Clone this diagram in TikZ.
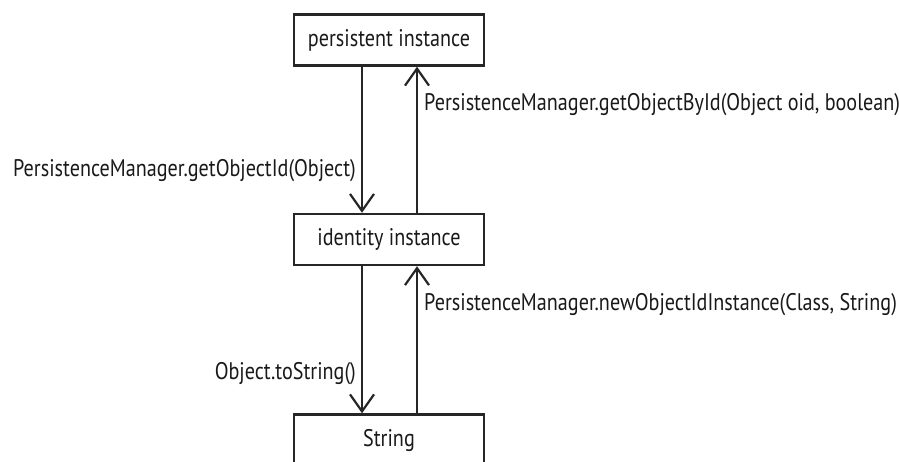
\documentclass[tikz,border=0pt]{standalone}
\usepackage{fontspec}
\setmainfont{PT Sans}[FakeStretch=0.84]
\usetikzlibrary{arrows.meta}
\begin{document}
\begin{tikzpicture}[x=1pt,y=-1pt,
  box/.style={draw=black!85,line width=2.4pt,minimum width=190pt,minimum height=51pt,
    inner sep=0pt,font=\fontsize{24}{28}\selectfont,text=black!90},
  flow/.style={draw=black!85,line width=2.2pt,
    -{Straight Barb[length=17pt,width=24pt,line width=2.2pt]}},
  lbl/.style={font=\fontsize{24}{28}\selectfont,text=black!90,inner sep=0pt}]
\useasboundingbox (0,0) rectangle (899,461);
\clip (0,0) rectangle (899,461);
% the three representations of an object identity
\node[box] (pi) at (389,40) {persistent instance};
\node[box] (ii) at (389,239.5) {identity instance};
\node[box] (st) at (389,440) {String};
% lanes for downward and upward conversions
\coordinate (dn) at (362,0);
\coordinate (up) at (417,0);
\draw[flow] (pi.south -| dn) -- (ii.north -| dn);
\draw[flow] (ii.north -| up) -- (pi.south -| up);
\draw[flow] (ii.south -| dn) -- (st.north -| dn);
\draw[flow] (st.north -| up) -- (ii.south -| up);
% conversion method labels
\node[lbl,anchor=east] (l1) at (356,171) {PersistenceManager.getObjectId(Object)};
\node[lbl,anchor=west] (l2) at (424,105) {PersistenceManager.getObjectById(Object oid, boolean)};
\node[lbl,anchor=west] (l3) at (424,305) {PersistenceManager.newObjectIdInstance(Class, String)};
\node[lbl,anchor=east] (l4) at (356,374) {Object.toString()};
\end{tikzpicture}
\end{document}
